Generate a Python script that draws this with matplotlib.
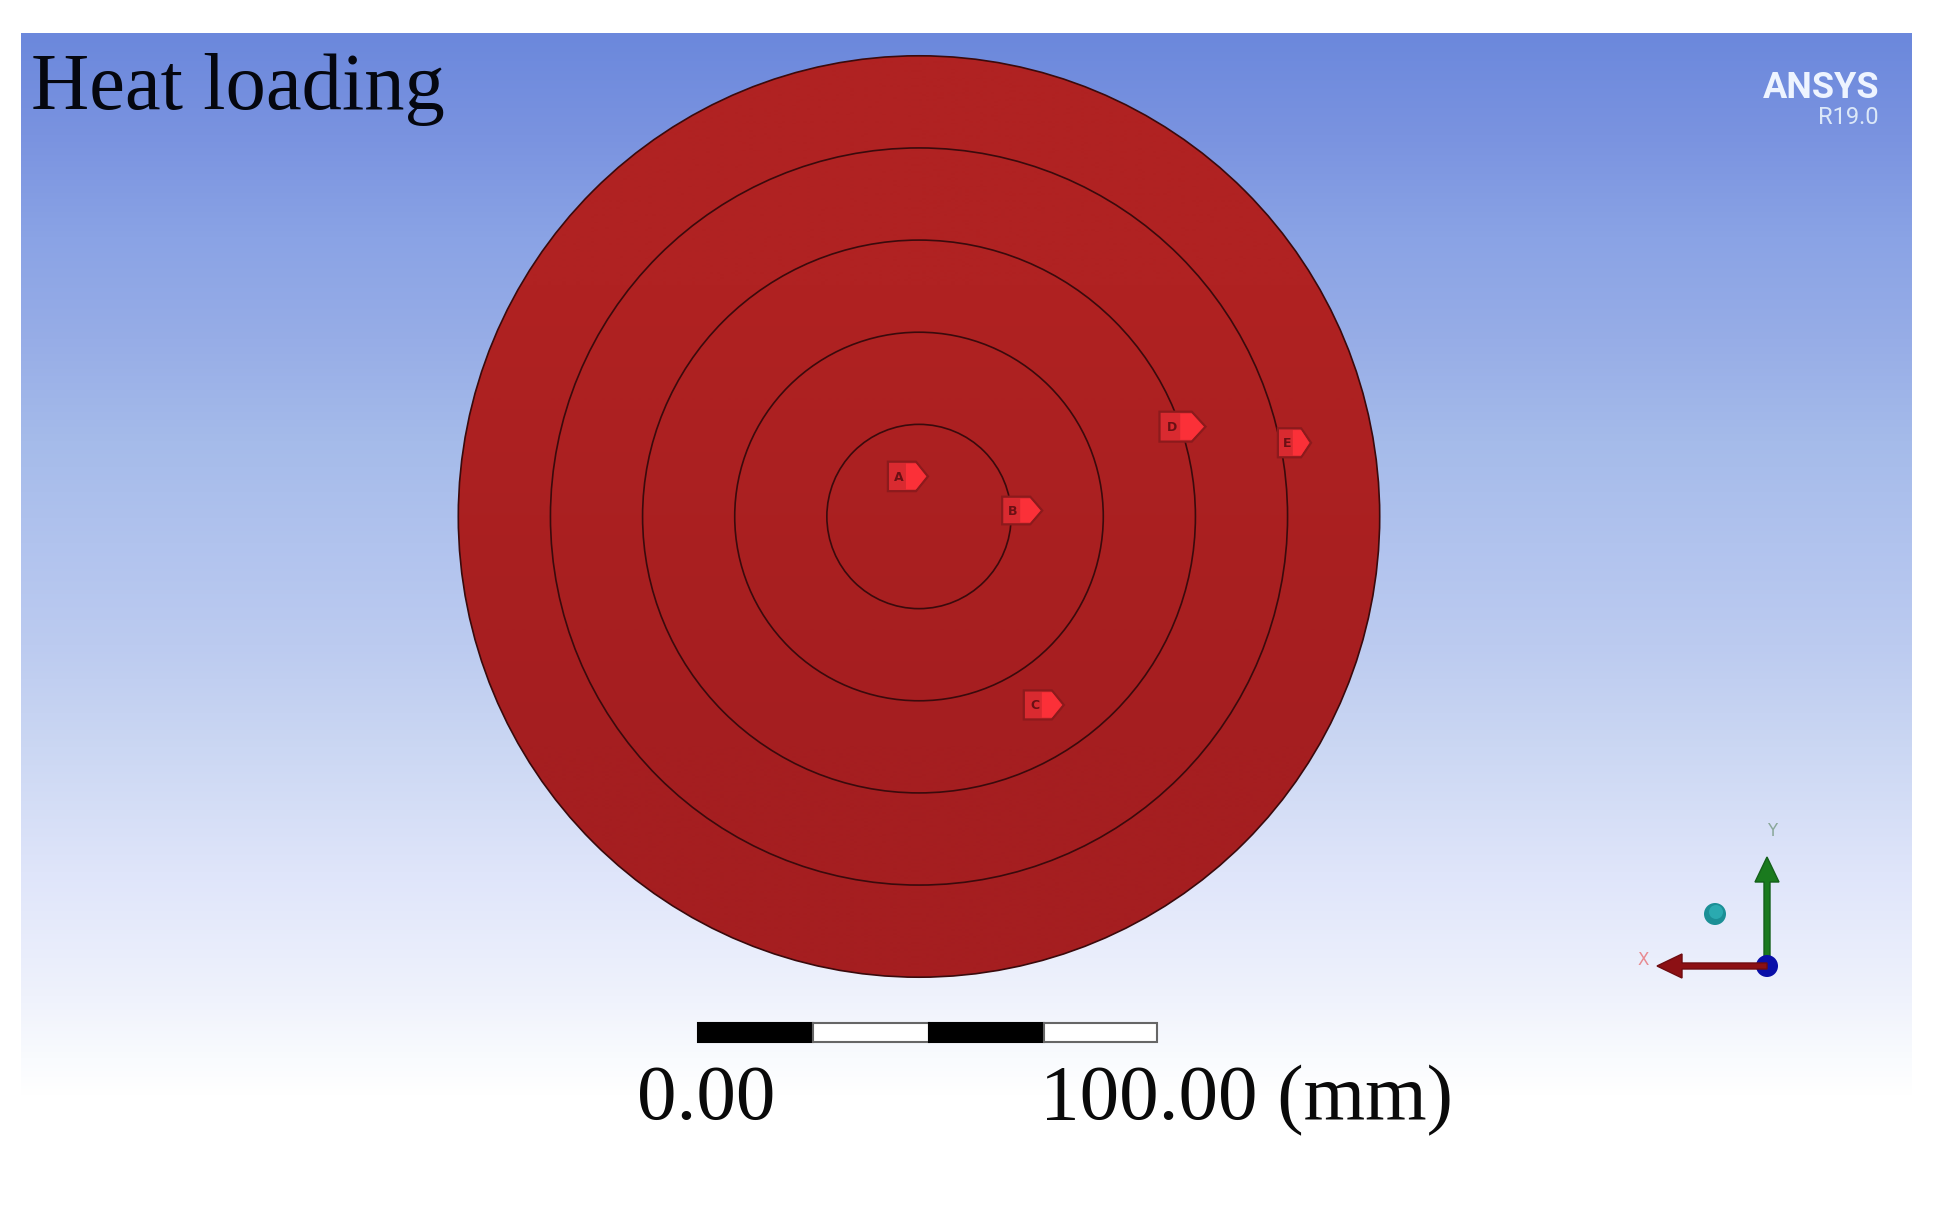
"""Heat loading on the concentric ring model, ANSYS style view."""

import matplotlib.pyplot as plt
import numpy as np
from matplotlib.patches import Circle, FancyArrow, Polygon, Rectangle

W, H = 1947, 1219

# ----- Data -----
ring_radii_mm = [20, 40, 60, 80, 100]
flag_labels = ["A", "B", "C", "D", "E"]
flag_x_mm = [-2.4, 22.4, 27.1, 57.2, 81.5]
flag_y_mm = [8.7, 1.3, -40.9, 19.5, 16.0]
flag_widths_mm = [8.7, 8.7, 8.7, 10.0, 7.2]
flag_heights_mm = [6.4, 6.0, 6.3, 6.5, 6.3]

scale_segments_mm = [0, 25, 50.3, 75.3, 100]
scale_fill = ["black", "white", "black", "white"]
scale_labels = ["0.00", "100.00 (mm)"]

# background stops, figure pixel row and colour
bg_rows = [33, 135, 237, 339, 441, 543, 645, 747, 872, 996, 1058, 1095]
bg_red = [107, 122, 138, 151, 165, 177, 188, 203, 223, 239, 249, 255]
bg_green = [136, 147, 163, 173, 187, 195, 203, 215, 229, 242, 251, 255]
bg_blue = [220, 224, 229, 231, 234, 238, 240, 243, 250, 252, 254, 255]

# ----- Layout -----
cx, cy = 919, 516.5
px_per_mm = 4.607
panel = (21, 1912, 33, 1095)

fig = plt.figure(figsize=(W / 100, H / 100), dpi=100, facecolor="white")
plt.rcParams["font.family"] = ["Liberation Serif", "DejaVu Serif"]

# pixel axes for the viewport furniture
ax = fig.add_axes([0, 0, 1, 1])
ax.axis("off")

rows = np.arange(panel[2], panel[3])
grad = np.stack(
    [
        np.interp(rows, bg_rows, bg_red),
        np.interp(rows, bg_rows, bg_green),
        np.interp(rows, bg_rows, bg_blue),
    ],
    axis=1,
)[:, None, :] / 255.0
ax.imshow(grad, extent=(panel[0], panel[1], panel[3], panel[2]), aspect="auto", zorder=0)
ax.set_xlim(0, W)
ax.set_ylim(H, 0)

# model axes in mm
mm = fig.add_axes([0, 0, 1, 1], facecolor="none")
mm.axis("off")

disc = Circle((0, 0), ring_radii_mm[-1], facecolor="#aa2021", edgecolor="none", zorder=1)
mm.add_patch(disc)
shade = mm.imshow(
    np.array([[[176, 34, 34]], [[165, 30, 32]]], dtype=float) / 255.0,
    extent=(-100, 100, -100, 100),
    aspect="auto",
    interpolation="bilinear",
    zorder=1.5,
)
shade.set_clip_path(disc)
mm.set_xlim(-cx / px_per_mm, (W - cx) / px_per_mm)
mm.set_ylim((cy - H) / px_per_mm, cy / px_per_mm)

for r in ring_radii_mm:
    mm.add_patch(Circle((0, 0), r, fill=False, edgecolor="#3a0a0c", linewidth=1.2, zorder=2))

# named selection flags
for lab, x, y, w, h in zip(flag_labels, flag_x_mm, flag_y_mm, flag_widths_mm, flag_heights_mm):
    left, right = x - w / 2, x + w / 2
    tip = right - 0.3 * w
    pts = [
        (left, y - h / 2),
        (tip, y - h / 2),
        (right, y),
        (tip, y + h / 2),
        (left, y + h / 2),
    ]
    mm.add_patch(Polygon(pts, closed=True, facecolor="#d92a30", edgecolor="#8c1a1c", linewidth=1.6, zorder=3))
    # brighter nose of the flag
    mid = left + 0.45 * w
    nose = [(mid, y - h / 2 + 0.4), (tip, y - h / 2 + 0.4), (right - 0.4, y), (tip, y + h / 2 - 0.4), (mid, y + h / 2 - 0.4)]
    mm.add_patch(Polygon(nose, closed=True, facecolor="#fb3038", edgecolor="none", zorder=3.5))
    mm.text(left + 0.27 * w, y - 0.2, lab, fontsize=9, family="DejaVu Sans", fontweight="bold", color="#6a1014", ha="center", va="center", zorder=4)

# title and logo
ax.text(31, 109, "Heat loading", fontsize=58, color="#05070f", ha="left", va="baseline")
ax.text(1879, 98, "ANSYS", fontsize=26, family="Roboto", fontweight="bold", color="#eef4ff", ha="right", va="baseline")
ax.text(1879, 124, "R19.0", fontsize=17, family="Roboto", color="#dce8f8", ha="right", va="baseline")

# scale bar
bar_left, bar_top, bar_h = 698, 1023, 19
bar_scale = 459 / scale_segments_mm[-1]
for i, c in enumerate(scale_fill):
    x0 = bar_left + scale_segments_mm[i] * bar_scale
    w = (scale_segments_mm[i + 1] - scale_segments_mm[i]) * bar_scale
    ax.add_patch(Rectangle((x0, bar_top), w, bar_h, facecolor=c, edgecolor="#666666" if c == "white" else "black", linewidth=1.5, zorder=3))
ax.text(637, 1119, scale_labels[0], fontsize=57, color="#0a0a0a", ha="left", va="baseline")
ax.text(1040, 1119, scale_labels[1], fontsize=57, color="#0a0a0a", ha="left", va="baseline")

# axis triad
ox, oy = 1767, 966
ax.add_patch(FancyArrow(ox, oy, 0, -109, width=6, head_width=24, head_length=25, length_includes_head=True, facecolor="#1a7a1e", edgecolor="#14601a", zorder=3))
ax.add_patch(FancyArrow(ox, oy, -110, 0, width=6, head_width=24, head_length=25, length_includes_head=True, facecolor="#8c1014", edgecolor="#6e0c10", zorder=4))
ax.add_patch(Circle((ox, oy), 11, facecolor="#0a0fa8", edgecolor="none", zorder=3.5))
ax.add_patch(Circle((1715, 914), 11, facecolor="#1b8f96", edgecolor="none", zorder=3))
ax.add_patch(Circle((1716, 912), 7, facecolor="#2aaab0", edgecolor="none", zorder=3.1))
ax.text(1643, 960, "X", fontsize=12, family="DejaVu Sans", color="#e88a90", ha="center", va="center")
ax.text(1772, 831, "Y", fontsize=12, family="DejaVu Sans", color="#8aa89a", ha="center", va="center")

fig.savefig("out.png", dpi=100)
